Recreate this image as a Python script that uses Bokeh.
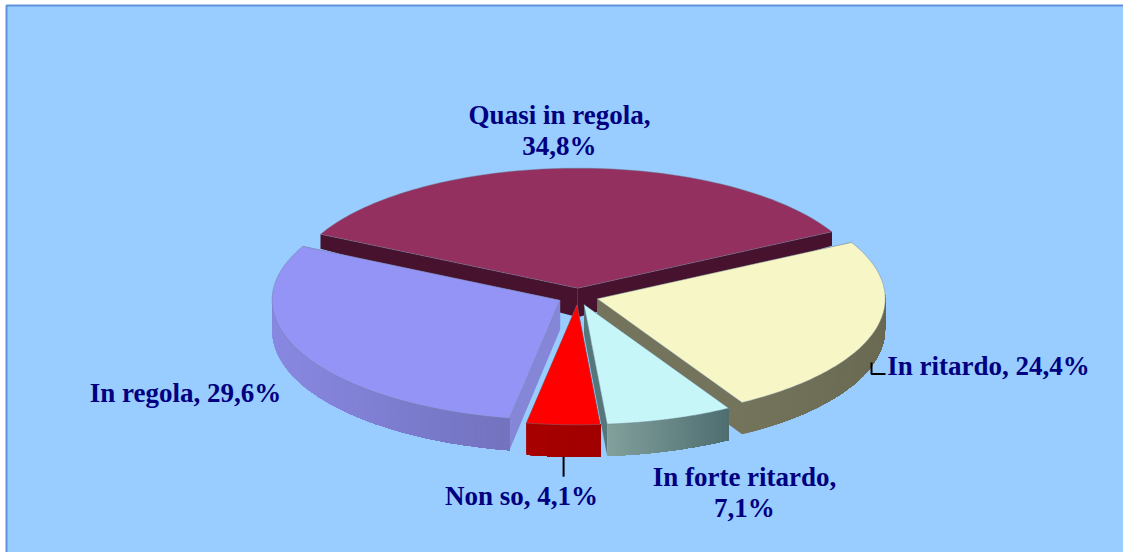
import numpy as np
from bokeh.plotting import figure
from bokeh.embed import file_html
from bokeh.resources import INLINE
from bokeh.models import Range1d
from bokeh.core.properties import value

categories = ["Quasi in regola", "In ritardo", "In forte ritardo", "Non so", "In regola"]
shares = [34.8, 24.4, 7.1, 4.1, 29.6]
label_breaks = [True, False, True, False, False]

top_colors = ["#93305F", "#F6F6C6", "#C6F6F8", "#FF0000", "#9494F6"]
arc_colors = [("#4A1430", "#4A1430"), ("#74745C", "#6A6A52"), ("#82A09C", "#4E6E70"), ("#A80000", "#A00000"), ("#8888E2", "#7272BE")]
radial_colors = ["#47122E", "#74745C", "#56777A", "#A80000", "#8686D8"]

W, H = 1123, 552
CX, CY = 577.5, 296.0
RX, RY = 288.0, 120.0
EXPLODE = 20.0
START = -63.3
HEIGHT_Y = [232, 287, 340, 430]
HEIGHT_H = [14, 29, 31, 32]

p = figure(width=W, height=H, output_backend="svg", toolbar_location=None, min_border=0,
           x_range=Range1d(0, W), y_range=Range1d(H, 0))
p.xaxis.visible = False
p.yaxis.visible = False
p.xgrid.visible = False
p.ygrid.visible = False
p.outline_line_color = None
p.background_fill_color = "white"
p.border_fill_color = "white"

# Panel
p.quad(left=[6], right=[W + 5], top=[5], bottom=[H + 5], fill_color="#99CCFF", line_color="#5E93DC", line_width=2)


def hex_rgb(h):
    return np.array([int(h[i:i + 2], 16) for i in (1, 3, 5)], float)


def mix(a, b, t):
    c = hex_rgb(a) * (1 - t) + hex_rgb(b) * t
    return "#%02x%02x%02x" % tuple(int(round(v)) for v in c)


def drop(y):
    return np.interp(y, HEIGHT_Y, HEIGHT_H)


spans = np.array(shares) / sum(shares) * 360.0
starts = START + np.concatenate([[0], np.cumsum(spans)[:-1]])
slices = []
for i in range(len(shares)):
    a0, a1 = starts[i], starts[i] + spans[i]
    mid = np.radians((a0 + a1) / 2)
    ax = CX + EXPLODE * np.sin(mid)
    ay = CY - EXPLODE * RY / RX * np.cos(mid)
    t = np.radians(np.linspace(a0, a1, 90))
    xs = ax + RX * np.sin(t)
    ys = ay - RY * np.cos(t)
    slices.append(dict(i=i, ax=ax, ay=ay, t=t, xs=xs, ys=ys))

# painter's order: rear slice, side slices, then the front ones
for i in [0, 1, 4, 2, 3]:
    s = slices[i]
    ax, ay, xs, ys, t = s["ax"], s["ay"], s["xs"], s["ys"], s["t"]
    # radial walls
    for (ex, ey) in [(xs[0], ys[0]), (xs[-1], ys[-1])]:
        p.patch([ax, ex, ex, ax], [ay, ey, ey + drop(ey), ay + drop(ay)],
                fill_color=radial_colors[i], line_color=None)
    # curved wall, shaded along the arc where it faces the viewer
    front = np.where(np.cos(t) < 0.05)[0] if i else np.array([], int)
    if len(front):
        left_first = front[np.argsort(xs[front])]
        span = max(np.ptp(xs[front]), 1)
        bx, by = xs[left_first], ys[left_first]
        # each band runs on to the far end, so the next band paints over it and no seam shows
        for k in range(len(left_first) - 1):
            f = (bx[k] - bx[0]) / span
            col = mix(arc_colors[i][0], arc_colors[i][1], f)
            px, py = bx[k:], by[k:]
            p.patch(np.r_[px, px[::-1]], np.r_[py, (py + drop(py))[::-1]],
                    fill_color=col, line_color=None)
    # top face
    p.patch(np.r_[ax, xs], np.r_[ay, ys], fill_color=top_colors[i],
            line_color="#6E7F95", line_alpha=0.45, line_width=1)

# leader lines
rd = slices[3]
rd_mid = np.argmin(np.abs(rd["t"] - rd["t"].mean()))
rx0 = rd["xs"][rd_mid]
ry0 = rd["ys"][rd_mid]
p.line([rx0, rx0], [ry0 + drop(ry0), ry0 + drop(ry0) + 20], line_color="black", line_width=2)
p.line([871, 871, 885], [362, 373.5, 373.5], line_color="black", line_width=2)

# labels
texts = []
for c, v, b in zip(categories, shares, label_breaks):
    num = f"{v:.1f}".replace(".", ",") + "%"
    texts.append(f"{c},\n{num}" if b else f"{c}, {num}")
label_x = [559, 988, 744, 521, 185]
label_y = [130, 365, 492, 495, 392]
p.text(x=label_x, y=label_y, text=texts, text_font=value("Liberation Serif"), text_font_style="bold",
       text_font_size="27px", text_color="#000080", text_align="center", text_baseline="middle",
       text_line_height=1.06)

open("out.html", "w").write(file_html(p, INLINE))
